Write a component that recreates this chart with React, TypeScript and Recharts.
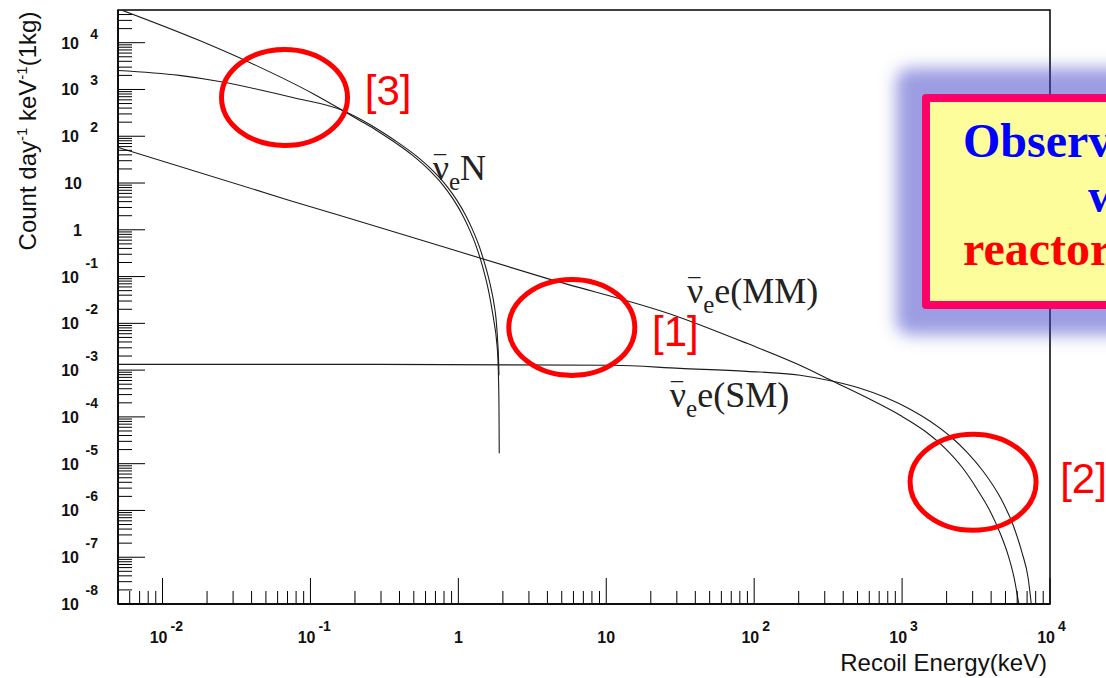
import React from 'react';
import { LineChart, Line, XAxis, YAxis, ReferenceArea, ReferenceDot } from 'recharts';

type Pt = [number, number];

// recoil energy (keV) -> count day^-1 keV^-1 (1 kg)
const nuNucleusA: Pt[] = [
  [0.00536, 49000], [0.0178, 11100], [0.0388, 3780], [0.1035, 822], [0.1652, 355.9],
  [0.2156, 217.6], [0.2805, 133.0], [0.3559, 81.3], [0.4907, 38.9], [0.6384, 18.59],
  [0.7894, 8.89], [0.9339, 4.25], [1.071, 2.03], [1.196, 0.971], [1.314, 0.464],
  [1.418, 0.222], [1.513, 0.1061], [1.598, 0.0507], [1.67, 0.02424], [1.736, 0.01159],
  [1.812, 4.33e-3], [1.853, 1.62e-3], [1.87, 6.05e-4], [1.883, 1.38e-4], [1.89, 1.67e-5],
];
const nuNucleusB: Pt[] = [
  [0.005, 2550], [0.013, 2000], [0.0243, 1480], [0.0476, 953], [0.0759, 675], [0.1652, 355.9],
  [0.2259, 217.6], [0.2939, 133.0], [0.3729, 81.3], [0.5142, 38.9], [0.6689, 18.59],
  [0.8271, 8.89], [0.9785, 4.25], [1.122, 2.03], [1.253, 0.971], [1.377, 0.464],
  [1.485, 0.222], [1.586, 0.1061], [1.675, 0.0507], [1.749, 0.02424], [1.803, 0.01159],
  [1.842, 4.33e-3], [1.871, 1.62e-3], [1.882, 7.74e-4],
];
const nuElectronMM: Pt[] = [
  [0.005, 57.7], [0.0723, 4.25], [0.294, 1.125], [3.96, 0.0916], [31.5, 0.0134], [89.3, 3.74e-3],
  [204, 1.267e-3], [341, 5.77e-4], [607.5, 2.377e-4], [969.4, 1.082e-4], [1431, 4.92e-5],
  [1954, 2.13e-5], [2547, 8.37e-6], [3217, 2.84e-6], [3939, 9.61e-7], [4604, 3.26e-7],
  [5215, 1.1e-7], [5725, 3.56e-8], [6141, 1.04e-8],
];
const nuElectronSM: Pt[] = [
  [0.005, 1.33e-3], [0.294, 1.33e-3], [11.1, 1.27e-3], [31.5, 1.09e-3], [89.3, 9.42e-4],
  [204, 7.74e-4], [341, 5.77e-4], [519.8, 4.08e-4], [767.4, 2.62e-4], [1133, 1.453e-4],
  [1547, 8.05e-5], [2113, 3.85e-5], [2753, 1.752e-5], [3532, 6.88e-6], [4604, 1.914e-6],
  [5636, 4.83e-7], [6485, 1.218e-7], [7120, 3.56e-8], [7463, 1.04e-8],
];

const xDomain: Pt = [0.005, 10000];
const yDomain: Pt = [1e-8, 5e4];

const xMajor = [0.01, 0.1, 1, 10, 100, 1000, 10000];
const xMajorLabels = [['10', '-2'], ['10', '-1'], ['1', ''], ['10', ''], ['10', '2'], ['10', '3'], ['10', '4']];
const yMajor = [1e-8, 1e-7, 1e-6, 1e-5, 1e-4, 1e-3, 1e-2, 0.1, 1, 10, 100, 1000, 10000];
const yMajorLabels = [
  ['10', '-8'], ['10', '-7'], ['10', '-6'], ['10', '-5'], ['10', '-4'], ['10', '-3'], ['10', '-2'],
  ['10', '-1'], ['1', ''], ['10', ''], ['10', '2'], ['10', '3'], ['10', '4'],
];

// circled regions and their tags
const rings = [
  { e: 0.0668, r: 675 },
  { e: 5.85, r: 8.2e-3 },
  { e: 3020, r: 4.0e-6 },
];
const ringTags = [
  { text: '[3]', e: 0.2328, r: 455 },
  { text: '[1]', e: 20.4, r: 3.23e-3 },
  { text: '[2]', e: 11720, r: 2.33e-6 },
];
const curveTags = [
  { sym: 'N', e: 0.671, r: 11.4 },
  { sym: 'e(MM)', e: 35.1, r: 0.0267 },
  { sym: 'e(SM)', e: 26.9, r: 1.6e-4 },
];

const minorTicks = (decades: number[], [lo, hi]: Pt) =>
  decades.flatMap((d) => [2, 3, 4, 5, 6, 7, 8, 9].map((k) => d * k)).filter((v) => v > lo && v < hi);

const xTicks = [...xMajor, ...minorTicks([0.001, 0.01, 0.1, 1, 10, 100, 1000], xDomain)];
const yTicks = [...yMajor, ...minorTicks([1e-8, 1e-7, 1e-6, 1e-5, 1e-4, 1e-3, 1e-2, 0.1, 1, 10, 100, 1000, 10000], yDomain)];

const toRows = (pts: Pt[]) => pts.map(([e, r]) => ({ e, r }));

const tickFont = { fontFamily: 'Liberation Sans, Arial, sans-serif', fontWeight: 700, fontSize: 16, fill: '#111' };
const supFont = { ...tickFont, fontSize: 14 };

const XTick = ({ x, y, payload }: any) => {
  const i = xMajor.indexOf(payload.value);
  if (i < 0) return <line x1={x} x2={x} y1={y} y2={y - 13} stroke="#000" />;
  const [base, exp] = xMajorLabels[i];
  return (
    <g>
      <line x1={x} x2={x} y1={y} y2={y - 26} stroke="#000" />
      {exp ? (
        <>
          <text x={x + 5} y={y + 39} textAnchor="end" style={tickFont}>{base}</text>
          <text x={x + 8} y={y + 27} style={supFont}>{exp}</text>
        </>
      ) : (
        <text x={x} y={y + 39} textAnchor="middle" style={tickFont}>{base}</text>
      )}
    </g>
  );
};

const YTick = ({ x, y, payload }: any) => {
  const i = yMajor.indexOf(payload.value);
  if (i < 0) return <line x1={x} x2={x + 14} y1={y} y2={y} stroke="#000" />;
  const [base, exp] = yMajorLabels[i];
  return (
    <g>
      <line x1={x} x2={x + 27} y1={y} y2={y} stroke="#000" />
      {exp ? (
        <>
          <text x={x - 39} y={y + 6} textAnchor="end" style={tickFont}>{base}</text>
          <text x={x - 20} y={y - (exp.startsWith('-') ? 9 : 4)} textAnchor="end" style={supFont}>{exp}</text>
        </>
      ) : (
        <text x={x - 36} y={y + 6} textAnchor="end" style={tickFont}>{base}</text>
      )}
    </g>
  );
};

const series = [nuNucleusA, nuNucleusB, nuElectronMM, nuElectronSM];

export default function App() {
  return (
    <div style={{ position: 'absolute', left: 0, top: 0, width: 1106, height: 678, overflow: 'hidden', background: '#fff' }}>
      <LineChart width={1106} height={678} margin={{ top: 10, right: 56, bottom: 0, left: 0 }}>
        <XAxis
          dataKey="e"
          type="number"
          scale="log"
          domain={xDomain}
          allowDataOverflow
          ticks={xTicks}
          interval={0}
          tickSize={0}
          tickMargin={0}
          tickLine={false}
          tick={(p: any) => <XTick {...p} />}
          axisLine={{ stroke: '#000', strokeWidth: 1.5 }}
          height={74}
        />
        <YAxis
          type="number"
          scale="log"
          domain={yDomain}
          allowDataOverflow
          ticks={yTicks}
          interval={0}
          tickSize={0}
          tickMargin={0}
          tickLine={false}
          tick={(p: any) => <YTick {...p} />}
          axisLine={{ stroke: '#000', strokeWidth: 1.5 }}
          width={118}
        />
        <ReferenceArea
          x1={xDomain[0]}
          x2={xDomain[1]}
          y1={yDomain[0]}
          y2={yDomain[1]}
          fill="none"
          stroke="#000"
          strokeWidth={1.5}
          ifOverflow="visible"
        />
        {series.map((pts, i) => (
          <Line
            key={i}
            data={toRows(pts)}
            dataKey="r"
            type="monotone"
            stroke="#1c1c1c"
            strokeWidth={1.1}
            dot={false}
            isAnimationActive={false}
          />
        ))}
        {curveTags.map((t) => (
          <ReferenceDot
            key={t.sym}
            x={t.e}
            y={t.r}
            ifOverflow="visible"
            shape={(p: any) => (
              <text x={p.cx} y={p.cy} fontFamily="Liberation Serif, Times New Roman, serif" fontSize={36} fill="#222">
                <tspan>{'\u03bd'}</tspan>
                <tspan fontSize={24} dx={-15} dy={-8}>{'\u00af'}</tspan>
                <tspan fontSize={25} dx={3} dy={18}>e</tspan>
                <tspan dy={-10}>{t.sym}</tspan>
              </text>
            )}
          />
        ))}
        {rings.map((c, i) => (
          <ReferenceDot
            key={'ring' + i}
            x={c.e}
            y={c.r}
            ifOverflow="visible"
            shape={(p: any) => <ellipse cx={p.cx} cy={p.cy} rx={63} ry={48} fill="none" stroke="#ff0000" strokeWidth={5} />}
          />
        ))}
        {ringTags.map((t) => (
          <ReferenceDot
            key={t.text}
            x={t.e}
            y={t.r}
            ifOverflow="visible"
            shape={(p: any) => (
              <text x={p.cx} y={p.cy} fontFamily="Liberation Sans, Arial, sans-serif" fontSize={42} fill="#ff0000">
                {t.text}
              </text>
            )}
          />
        ))}
      </LineChart>

      <div
        style={{
          position: 'absolute',
          left: 922,
          top: 94,
          width: 400,
          height: 215,
          boxSizing: 'border-box',
          border: '8px solid #ff0066',
          borderRadius: 4,
          background: '#fdfd9b',
          boxShadow: '0 0 16px 26px rgba(60,60,200,0.5)',
        }}
      />

      <svg width={1106} height={678} style={{ position: 'absolute', left: 0, top: 0, pointerEvents: 'none' }}>
        <g fontFamily="Liberation Serif, Times New Roman, serif" fontWeight={700} fontSize={48}>
          <text x={963} y={157} fill="#0000ff">Observ</text>
          <text x={1088} y={212} fill="#0000ff">w</text>
          <text x={963} y={265} fill="#ff0000">reactor</text>
        </g>
        <text x={1047} y={671} textAnchor="end" fontFamily="Liberation Sans, Arial, sans-serif" fontSize={24} fill="#111">
          Recoil Energy(keV)
        </text>
        <text
          transform="translate(36,131) rotate(-90)"
          textAnchor="middle"
          fontFamily="Liberation Sans, Arial, sans-serif"
          fontSize={24}
          fill="#111"
        >
          Count day<tspan fontSize={15} dy={-9}>-1</tspan>
          <tspan dy={9}> keV</tspan>
          <tspan fontSize={15} dy={-9}>-1</tspan>
          <tspan dy={9}>(1kg)</tspan>
        </text>
      </svg>
    </div>
  );
}
